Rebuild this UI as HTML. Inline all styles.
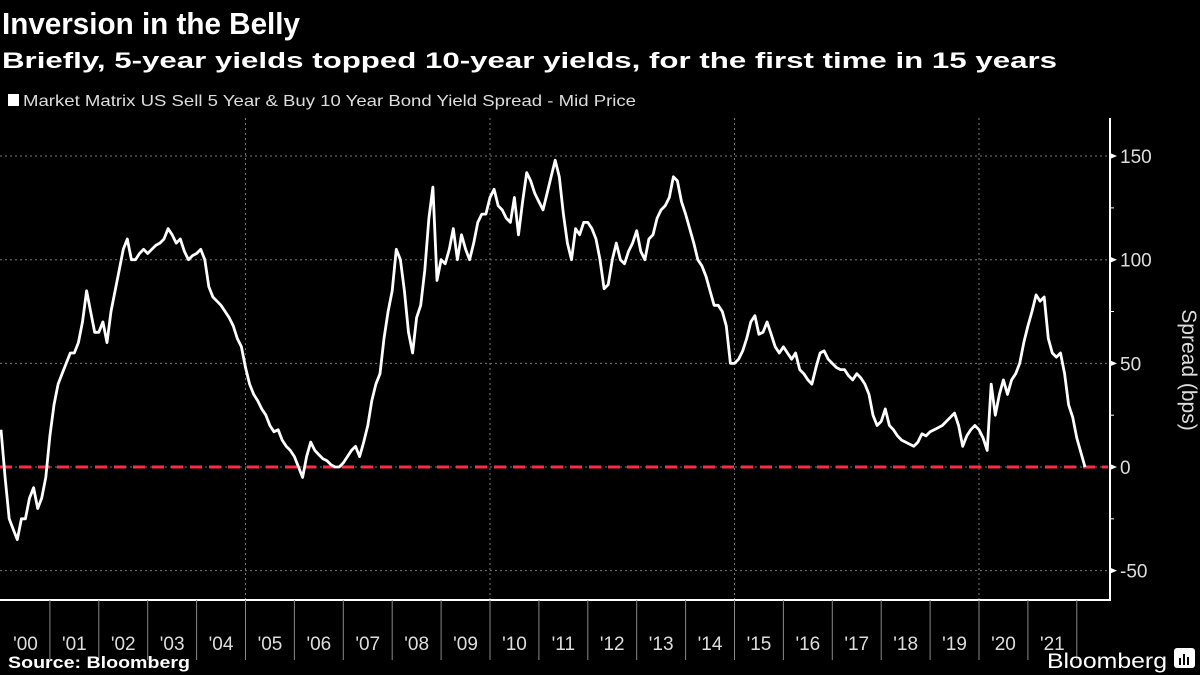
<!DOCTYPE html>
<html><head><meta charset="utf-8"><style>
html,body{margin:0;padding:0;background:#000;width:1200px;height:675px;overflow:hidden}
svg{display:block;font-family:"Liberation Sans",sans-serif}
</style></head><body>
<svg id="c" width="1200" height="675" viewBox="0 0 1200 675">
<text x="2" y="34" fill="#fff" font-size="31" font-weight="bold" textLength="298" lengthAdjust="spacingAndGlyphs">Inversion in the Belly</text>
<text x="2" y="68" fill="#fff" font-size="22" font-weight="bold" textLength="1055" lengthAdjust="spacingAndGlyphs">Briefly, 5-year yields topped 10-year yields, for the first time in 15 years</text>
<rect x="8" y="94" width="11" height="12" fill="#fff"/>
<text x="23" y="106" fill="#ddd" font-size="16" textLength="613" lengthAdjust="spacingAndGlyphs">Market Matrix US Sell 5 Year &amp; Buy 10 Year Bond Yield Spread - Mid Price</text>
<g id="grid"></g>
<g id="axes"></g>
<line id="zero" stroke="#ff2a45" stroke-width="3" stroke-dasharray="12,7"/>
<path id="series" fill="none" stroke="#fff" stroke-width="2.8" stroke-linejoin="round"/>
<text transform="translate(1182,370) rotate(90)" text-anchor="middle" fill="#ddd" font-size="21">Spread (bps)</text>
<text x="8" y="668" fill="#fff" font-size="17" font-weight="bold" textLength="182" lengthAdjust="spacingAndGlyphs">Source: Bloomberg</text>
<text x="1047" y="668" fill="#fff" font-size="21" textLength="120" lengthAdjust="spacingAndGlyphs">Bloomberg</text>
<g><rect x="1174" y="648" width="21" height="20" rx="3" fill="#fff"/><rect x="1179" y="658" width="2" height="7" fill="#000"/><rect x="1183" y="654" width="2" height="11" fill="#000"/><rect x="1187" y="657" width="2" height="8" fill="#000"/></g>
</svg>
<script>
const years=['\'00','\'01','\'02','\'03','\'04','\'05','\'06','\'07','\'08','\'09','\'10','\'11','\'12','\'13','\'14','\'15','\'16','\'17','\'18','\'19','\'20','\'21'];
const yTicks=[150,100,50,0,-50];
const startYear=2000;
const spread=[
18,-5,-25,-30,-35,-25,-25,-15,-10,-20,-15,-5,
15,30,40,45,50,55,55,60,70,85,75,65,
65,70,60,75,85,95,105,110,100,100,103,105,
103,105,107,108,110,115,112,108,110,104,100,102,
103,105,100,87,82,80,78,75,72,68,62,58,
48,40,35,32,28,25,20,17,18,13,10,8,
5,0,-5,5,12,8,6,4,3,1,0,0,
2,5,8,10,5,12,20,32,40,45,62,75,
85,105,100,85,65,55,72,78,95,120,135,90,
100,98,105,115,100,112,105,100,108,118,122,122,
130,134,126,124,120,118,130,112,128,142,138,132,
128,124,132,140,148,140,122,108,100,115,112,118,
118,115,110,100,86,88,100,108,100,98,104,108,
114,104,100,110,112,120,124,126,130,140,138,128,
122,115,108,100,97,92,85,78,78,75,68,50,
50,52,56,62,70,73,64,65,70,64,58,55,
58,55,52,55,47,45,42,40,48,55,56,52,
50,48,47,47,44,42,45,43,40,35,25,20,
22,28,20,18,15,13,12,11,10,12,16,15,
17,18,19,20,22,24,26,20,10,15,18,20,
18,14,8,40,25,35,42,35,42,45,50,60,
68,75,83,80,82,62,55,53,55,45,30,24,
14,7,0
];
const X0=1,PXY=48.9,Y0=467,PXV=2.073,TOP=118,BOT=600,RIGHT=1110;
const xs=t=>X0+(t-startYear)*PXY;
const ys=v=>Y0-v*PXV;
const NS='http://www.w3.org/2000/svg';
const grid=document.getElementById('grid'),axes=document.getElementById('axes');
function mk(tag,attrs,parent){const e=document.createElementNS(NS,tag);for(const k in attrs)e.setAttribute(k,attrs[k]);parent.appendChild(e);return e;}
yTicks.forEach(v=>{
  const g=mk('line',{x1:0,x2:RIGHT,y1:ys(v),y2:ys(v),stroke:'#777','stroke-width':1,'stroke-dasharray':'2,3'},grid);
  
  
  const tk=mk('path',{d:`M${RIGHT} ${ys(v)-3}L${RIGHT+7} ${ys(v)}L${RIGHT} ${ys(v)+3}Z`,fill:'#fff'},axes);
  
  
  const t=mk('text',{x:RIGHT+10,y:ys(v)+7,fill:'#ddd','font-size':19},axes);
  t.textContent=String(v);
  
  
});
for(let v=-50;v<=150;v+=25){if(v%50){const m=mk('line',{x1:RIGHT,x2:RIGHT+4,y1:ys(v),y2:ys(v),stroke:'#fff'},axes);}}
[2005,2010,2015,2020].forEach(y=>{const g=mk('line',{x1:xs(y),x2:xs(y),y1:TOP,y2:BOT,stroke:'#777','stroke-dasharray':'2,3'},grid);});
const bl=mk('line',{x1:0,x2:RIGHT+1,y1:BOT,y2:BOT,stroke:'#fff','stroke-width':2},axes);


const rl=mk('line',{x1:RIGHT,x2:RIGHT,y1:TOP,y2:BOT+1,stroke:'#fff','stroke-width':2},axes);


years.forEach((lab,i)=>{
  const x=xs(startYear+i);
  if(i>0){const s=mk('line',{x1:x,x2:x,y1:BOT,y2:660,stroke:'#888'},axes);}
  const t=mk('text',{x:x+PXY/2,y:650,'text-anchor':'middle',fill:'#ddd','font-size':19},axes);
  t.textContent=lab;
  
  
});
const last=mk('line',{x1:xs(startYear+years.length),x2:xs(startYear+years.length),y1:BOT,y2:660,stroke:'#888'},axes);


const z=document.getElementById('zero');
z.setAttribute('x1',0);z.setAttribute('x2',RIGHT-2);z.setAttribute('y1',ys(0));z.setAttribute('y2',ys(0));
document.getElementById('series').setAttribute('d',spread.map((v,i)=>(i?'L':'M')+xs(startYear+i/12).toFixed(1)+' '+ys(v).toFixed(1)).join(''));
</script>
</body></html>
